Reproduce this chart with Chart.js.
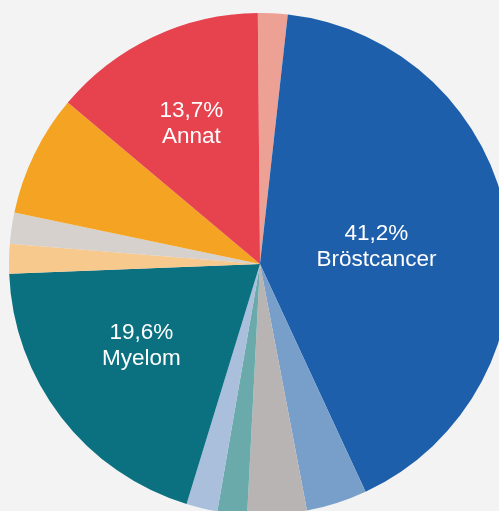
<!DOCTYPE html>
<html>
<head>
<meta charset="utf-8">
<script src="https://cdn.jsdelivr.net/npm/chart.js"></script>
<style>
    html, body {
        margin: 0;
        padding: 0;
        background: #f3f3f3;
        width: 499px;
        height: 511px;
        overflow: hidden;
    }
    .chart-box {
        position: absolute;
        left: 9px;
        top: 13px;
        width: 502px;
        height: 502px;
    }
</style>
</head>
<body>
<div class="chart-box"><canvas id="pieChart" width="502" height="502"></canvas></div>
<script>
// Data (percent of total)
const categories = ['Lungcancer', 'Bröstcancer', 'Prostatacancer', 'Njurcancer', 'Tyreoideacancer',
    'Malignt melanom', 'Myelom', 'Lymfom', 'Okänd primärtumör', 'Kolorektal cancer', 'Annat'];
const shares = [1.9, 41.2, 3.9, 3.8, 1.9, 2.0, 19.6, 1.9, 2.0, 7.8, 13.7];
const colors = ['#eda195', '#1e5fab', '#789fca', '#b9b4b4', '#6aaaab', '#a9bfdc',
    '#0b7180', '#f8c98d', '#d6d1cc', '#f4a422', '#e6434f'];

// Which slices get a printed label
const labelled = ['Bröstcancer', 'Myelom', 'Annat'];

/* ============================================
   SLICE LABELS (value + name inside the slice)
   ============================================ */
const sliceLabels = {
    id: 'sliceLabels',
    afterDatasetsDraw(chart, args, opts) {
        const ctx = chart.ctx;
        const meta = chart.getDatasetMeta(0);
        ctx.save();
        ctx.fillStyle = '#ffffff';
        ctx.font = opts.font;
        ctx.textAlign = 'center';
        ctx.textBaseline = 'alphabetic';
        labelled.forEach(name => {
            const i = categories.indexOf(name);
            const arc = meta.data[i];
            const p = arc.getProps(['x', 'y', 'startAngle', 'endAngle', 'outerRadius'], true);
            const place = opts.place[name];
            const a = p.startAngle + (p.endAngle - p.startAngle) * place.along;
            const r = p.outerRadius * place.out;
            const x = p.x + Math.cos(a) * r;
            const y = p.y + Math.sin(a) * r;
            const pct = shares[i].toFixed(1).replace('.', ',') + '%';
            ctx.fillText(pct, x, y - 5);
            ctx.fillText(name, x, y + 21);
        });
        ctx.restore();
    }
};

new Chart(document.getElementById('pieChart'), {
    type: 'pie',
    data: {
        labels: categories,
        datasets: [{
            data: shares,
            backgroundColor: colors,
            borderWidth: 0,
            hoverOffset: 0,
            offset: 0
        }]
    },
    options: {
        responsive: false,
        animation: false,
        rotation: -0.5,
        layout: { padding: 0 },
        events: [],
        plugins: {
            legend: { display: false },
            tooltip: { enabled: false },
            sliceLabels: {
                font: "22.5px 'Liberation Sans', Arial, sans-serif",
                place: {
                    'Bröstcancer': { along: 0.5, out: 0.47 },
                    'Myelom': { along: 0.55, out: 0.57 },
                    'Annat': { along: 0.49, out: 0.63 }
                }
            }
        }
    },
    plugins: [sliceLabels]
});
</script>
</body>
</html>
